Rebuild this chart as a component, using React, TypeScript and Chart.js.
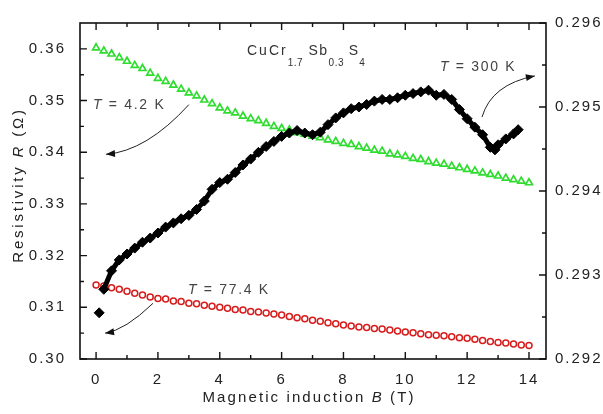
import React, { useEffect, useRef } from 'react';
import { Chart, registerables } from 'chart.js';

Chart.register(...registerables);

// Magnetic induction B (T) for the 4.2 K and 77.4 K sweeps
const bField = [
  0, 0.25, 0.5, 0.75, 1, 1.25, 1.5, 1.75, 2, 2.25, 2.5, 2.75, 3, 3.25, 3.5, 3.75,
  4, 4.25, 4.5, 4.75, 5, 5.25, 5.5, 5.75, 6, 6.25, 6.5, 6.75, 7, 7.25, 7.5, 7.75,
  8, 8.25, 8.5, 8.75, 9, 9.25, 9.5, 9.75, 10, 10.25, 10.5, 10.75, 11, 11.25, 11.5, 11.75,
  12, 12.25, 12.5, 12.75, 13, 13.25, 13.5, 13.75, 14,
];
// T = 4.2 K, left axis (Ω)
const res42K = [
  0.3602, 0.3596, 0.359, 0.3583, 0.3576, 0.3568, 0.3562, 0.3553, 0.3543, 0.3537, 0.353, 0.3522, 0.3515, 0.3509, 0.3501, 0.3494,
  0.3486, 0.348, 0.3476, 0.347, 0.3465, 0.3461, 0.3456, 0.345, 0.3446, 0.3443, 0.3438, 0.3435, 0.3431, 0.3428, 0.3424, 0.3421,
  0.3417, 0.3415, 0.3411, 0.3408, 0.3404, 0.3402, 0.3397, 0.3395, 0.3392, 0.3388, 0.3386, 0.3382, 0.3379, 0.3377, 0.3373, 0.337,
  0.3367, 0.3364, 0.336, 0.3357, 0.3354, 0.335, 0.3347, 0.3344, 0.3341,
];
// T = 77.4 K, left axis (Ω)
const res774K = [
  0.3143, 0.3141, 0.3138, 0.3135, 0.3131, 0.3127, 0.3124, 0.312, 0.3117, 0.3116, 0.3112, 0.3111, 0.3108, 0.3107, 0.3104, 0.3102,
  0.31, 0.3098, 0.3096, 0.3095, 0.3092, 0.3091, 0.3089, 0.3087, 0.3085, 0.3082, 0.308, 0.3078, 0.3075, 0.3073, 0.307, 0.3068,
  0.3066, 0.3064, 0.3062, 0.3061, 0.3059, 0.3058, 0.3056, 0.3054, 0.3052, 0.3051, 0.3049, 0.3047, 0.3046, 0.3045, 0.3043, 0.3041,
  0.304, 0.3038, 0.3036, 0.3034, 0.3032, 0.3031, 0.3029, 0.3027, 0.3026,
];
// T = 300 K sweep, right axis (Ω)
const bField300 = [
  0.1, 0.25, 0.5, 0.75, 1, 1.25, 1.5, 1.75, 2, 2.25, 2.5, 2.75, 3, 3.25, 3.5, 3.75,
  4, 4.25, 4.5, 4.75, 5, 5.25, 5.5, 5.75, 6, 6.25, 6.5, 6.75, 7, 7.25, 7.5, 7.75,
  8, 8.25, 8.5, 8.75, 9, 9.25, 9.5, 9.75, 10, 10.25, 10.5, 10.75, 11, 11.25, 11.5, 11.75,
  12, 12.25, 12.5, 12.75, 12.9, 13, 13.25, 13.5, 13.65,
];
const res300K = [
  0.29255, 0.29283, 0.29305, 0.29318, 0.29325, 0.29332, 0.29339, 0.29344,
  0.2935, 0.29357, 0.29362, 0.29367, 0.29371, 0.29378, 0.29388, 0.29402,
  0.2941, 0.29414, 0.29422, 0.29431, 0.29438, 0.29446, 0.29453, 0.29459,
  0.29465, 0.29469, 0.29472, 0.29469, 0.29467, 0.2947, 0.29479, 0.29487,
  0.29493, 0.29498, 0.295, 0.29503, 0.29507, 0.29509, 0.29509, 0.29511,
  0.29514, 0.29516, 0.29518, 0.2952, 0.29514, 0.29515, 0.29509, 0.29497,
  0.29486, 0.29476, 0.29467, 0.29452, 0.29449, 0.29455, 0.29462, 0.29468, 0.29473,
];

// Tick positions (labelled ones are the even / whole-hundredth / whole-thousandth values)
const xTicks = [0, 1, 2, 3, 4, 5, 6, 7, 8, 9, 10, 11, 12, 13, 14];
const yLeftTicks = [0.3, 0.305, 0.31, 0.315, 0.32, 0.325, 0.33, 0.335, 0.34, 0.345, 0.35, 0.355, 0.36];
const yRightTicks = [0.292, 0.2925, 0.293, 0.2935, 0.294, 0.2945, 0.295, 0.2955, 0.296];

const FONT = '"Liberation Sans", Arial, sans-serif';
const TXT = '#222';

const isMajorX = (v: number) => Math.round(v) % 2 === 0;
const isMajorL = (v: number) => Math.round(v * 1000) % 10 === 0;
const isMajorR = (v: number) => Math.round(v * 10000) % 10 === 0;

type Part = { t: string; f: string; dy?: number; ls?: string };

function drawRich(ctx: CanvasRenderingContext2D, parts: Part[], x: number, y: number, align: 'left' | 'center') {
  const base = (ctx as any).letterSpacing;
  const widths = parts.map((p) => {
    ctx.font = p.f;
    (ctx as any).letterSpacing = p.ls || base;
    return ctx.measureText(p.t).width;
  });
  const total = widths.reduce((a, b) => a + b, 0);
  let cx = align === 'center' ? x - total / 2 : x;
  parts.forEach((p, i) => {
    ctx.font = p.f;
    (ctx as any).letterSpacing = p.ls || base;
    ctx.fillText(p.t, cx, y + (p.dy || 0));
    cx += widths[i];
  });
  (ctx as any).letterSpacing = base;
}

function drawArrow(ctx: CanvasRenderingContext2D, sx: number, sy: number, qx: number, qy: number, ex: number, ey: number) {
  ctx.beginPath();
  ctx.moveTo(sx, sy);
  ctx.quadraticCurveTo(qx, qy, ex, ey);
  ctx.stroke();
  const ang = Math.atan2(ey - qy, ex - qx);
  const L = 9;
  const W = 3.5;
  const bx = ex - L * Math.cos(ang);
  const by = ey - L * Math.sin(ang);
  ctx.beginPath();
  ctx.moveTo(ex, ey);
  ctx.lineTo(bx + W * Math.sin(ang), by - W * Math.cos(ang));
  ctx.lineTo(bx - W * Math.sin(ang), by + W * Math.cos(ang));
  ctx.closePath();
  ctx.fill();
}

const decorPlugin = {
  id: 'decor',
  beforeDraw(chart: any) {
    chart.ctx.letterSpacing = '2px';
  },
  afterDraw(chart: any) {
    const { ctx, chartArea: a, scales } = chart;
    const sx = scales.x;
    const sy = scales.y;
    const sy2 = scales.y2;
    ctx.save();
    ctx.letterSpacing = '0px';
    ctx.strokeStyle = '#111';
    ctx.fillStyle = '#111';
    ctx.lineWidth = 1.6;
    ctx.strokeRect(a.left, a.top, a.right - a.left, a.bottom - a.top);

    ctx.lineWidth = 1.4;
    ctx.beginPath();
    xTicks.forEach((v) => {
      const p = sx.getPixelForValue(v);
      const L = isMajorX(v) ? 7 : 4;
      ctx.moveTo(p, a.bottom);
      ctx.lineTo(p, a.bottom - L);
      ctx.moveTo(p, a.top);
      ctx.lineTo(p, a.top + L);
    });
    yLeftTicks.forEach((v) => {
      const p = sy.getPixelForValue(v);
      const L = isMajorL(v) ? 7 : 4;
      ctx.moveTo(a.left, p);
      ctx.lineTo(a.left + L, p);
    });
    yRightTicks.forEach((v) => {
      const p = sy2.getPixelForValue(v);
      const L = isMajorR(v) ? 7 : 4;
      ctx.moveTo(a.right, p);
      ctx.lineTo(a.right - L, p);
    });
    ctx.stroke();

    // axis titles
    ctx.fillStyle = TXT;
    ctx.textBaseline = 'alphabetic';
    ctx.letterSpacing = '2.1px';
    const n15 = `15px ${FONT}`;
    const i15 = `italic 15px ${FONT}`;
    drawRich(
      ctx,
      [
        { t: 'Magnetic induction ', f: n15 },
        { t: 'B', f: i15 },
        { t: ' (T)', f: n15 },
      ],
      (a.left + a.right) / 2 - 4,
      a.bottom + 43,
      'center'
    );
    ctx.save();
    ctx.translate(23, (a.top + a.bottom) / 2 - 6);
    ctx.rotate(-Math.PI / 2);
    ctx.letterSpacing = '2.8px';
    drawRich(
      ctx,
      [
        { t: 'Resistivity ', f: n15 },
        { t: 'R', f: i15 },
        { t: ' (Ω)', f: n15 },
      ],
      0,
      0,
      'center'
    );
    ctx.restore();

    // compound formula
    ctx.fillStyle = '#333';
    ctx.letterSpacing = '2px';
    const n14 = `14px ${FONT}`;
    const s10 = `10px ${FONT}`;
    drawRich(
      ctx,
      [
        { t: 'CuCr', f: n14 },
        { t: '1.7', f: s10, dy: 11, ls: '0.5px' },
        { t: ' Sb', f: n14, ls: '1.5px' },
        { t: '0.3', f: s10, dy: 11, ls: '0.5px' },
        { t: ' S', f: n14, ls: '1px' },
        { t: '4', f: s10, dy: 11, ls: '0px' },
      ],
      sx.getPixelForValue(4.88),
      sy.getPixelForValue(0.35885),
      'left'
    );

    // temperature labels + arrows
    ctx.fillStyle = '#444';
    ctx.textBaseline = 'middle';
    ctx.letterSpacing = '1.7px';
    const it14 = `italic 14px ${FONT}`;
    const lab = (t: string, x: number, y: number) =>
      drawRich(ctx, [{ t: 'T', f: it14 }, { t: t, f: n14 }], x, y, 'left');
    lab(' = 4.2 K', sx.getPixelForValue(-0.1), sy.getPixelForValue(0.3492));
    lab(' = 77.4 K', sx.getPixelForValue(2.97), sy.getPixelForValue(0.3133));
    lab(' = 300 K', sx.getPixelForValue(11.12), sy2.getPixelForValue(0.29547));

    ctx.strokeStyle = '#222';
    ctx.fillStyle = '#111';
    ctx.lineWidth = 1;
    drawArrow(
      ctx,
      sx.getPixelForValue(3.0), sy.getPixelForValue(0.3492),
      sx.getPixelForValue(1.63), sy.getPixelForValue(0.3402),
      sx.getPixelForValue(0.32), sy.getPixelForValue(0.3396)
    );
    drawArrow(
      ctx,
      sx.getPixelForValue(1.84), sy.getPixelForValue(0.31077),
      sx.getPixelForValue(0.94), sy.getPixelForValue(0.30558),
      sx.getPixelForValue(0.29), sy.getPixelForValue(0.305)
    );
    drawArrow(
      ctx,
      sx.getPixelForValue(12.48), sy2.getPixelForValue(0.29488),
      sx.getPixelForValue(12.79), sy2.getPixelForValue(0.29527),
      sx.getPixelForValue(14.19), sy2.getPixelForValue(0.29537)
    );
    ctx.restore();
  },
};

export default function App() {
  const ref = useRef<HTMLCanvasElement | null>(null);

  useEffect(() => {
    if (!ref.current) return;
    const tickFont = { family: FONT, size: 15 };
    const chart = new Chart(ref.current, {
      type: 'scatter',
      data: {
        datasets: [
          {
            label: 'T = 300 K',
            data: bField300.map((x, i) => ({ x, y: res300K[i] })),
            yAxisID: 'y2',
            showLine: true,
            borderColor: '#000',
            borderWidth: 5,
            segment: {
              borderColor: (c: any) => (c.p0DataIndex === 0 ? 'rgba(0,0,0,0)' : '#000'),
            },
            pointStyle: 'rectRot',
            pointRadius: 5,
            pointBackgroundColor: '#000',
            pointBorderColor: '#000',
            pointBorderWidth: 1,
          } as any,
          {
            label: 'T = 4.2 K',
            data: bField.map((x, i) => ({ x, y: res42K[i] })),
            yAxisID: 'y',
            showLine: false,
            pointStyle: 'triangle',
            pointRadius: 4,
            pointBackgroundColor: 'rgba(255,255,255,0)',
            pointBorderColor: '#2fdc2f',
            pointBorderWidth: 1.7,
          },
          {
            label: 'T = 77.4 K',
            data: bField.map((x, i) => ({ x, y: res774K[i] })),
            yAxisID: 'y',
            showLine: false,
            pointStyle: 'circle',
            pointRadius: 3,
            pointBackgroundColor: 'rgba(255,255,255,0)',
            pointBorderColor: '#d81c1c',
            pointBorderWidth: 1.5,
          },
        ],
      },
      options: {
        animation: false,
        responsive: false,
        layout: { padding: { top: 20, left: 0, right: 0, bottom: 0 } },
        plugins: { legend: { display: false }, tooltip: { enabled: false } },
        scales: {
          x: {
            type: 'linear',
            position: 'bottom',
            min: -0.52,
            max: 14.55,
            grid: { display: false, drawTicks: false },
            border: { display: false },
            afterBuildTicks: (s: any) => {
              s.ticks = xTicks.map((v) => ({ value: v }));
            },
            afterFit: (s: any) => {
              s.height = 55;
            },
            ticks: {
              autoSkip: false,
              maxRotation: 0,
              padding: 12,
              color: TXT,
              font: tickFont,
              callback: (v: any) => (isMajorX(Number(v)) ? String(v) : ''),
            },
          },
          y: {
            type: 'linear',
            position: 'left',
            min: 0.3,
            max: 0.365,
            grid: { display: false, drawTicks: false },
            border: { display: false },
            afterBuildTicks: (s: any) => {
              s.ticks = yLeftTicks.map((v) => ({ value: v }));
            },
            afterFit: (s: any) => {
              s.width = 80;
            },
            ticks: {
              autoSkip: false,
              padding: 14,
              color: TXT,
              font: tickFont,
              callback: (v: any) => (isMajorL(Number(v)) ? Number(v).toFixed(2) : ''),
            },
          },
          y2: {
            type: 'linear',
            position: 'right',
            min: 0.292,
            max: 0.296,
            grid: { display: false, drawTicks: false },
            border: { display: false },
            afterBuildTicks: (s: any) => {
              s.ticks = yRightTicks.map((v) => ({ value: v }));
            },
            afterFit: (s: any) => {
              s.width = 57;
            },
            ticks: {
              autoSkip: false,
              padding: 9,
              color: TXT,
              font: tickFont,
              callback: (v: any) => (isMajorR(Number(v)) ? Number(v).toFixed(3) : ''),
            },
          },
        },
      },
      plugins: [decorPlugin],
    } as any);
    return () => chart.destroy();
  }, []);

  return (
    <canvas
      ref={ref}
      width={603}
      height={414}
      style={{ position: 'absolute', left: 0, top: 0, width: 603, height: 414, background: '#fff' }}
    />
  );
}
